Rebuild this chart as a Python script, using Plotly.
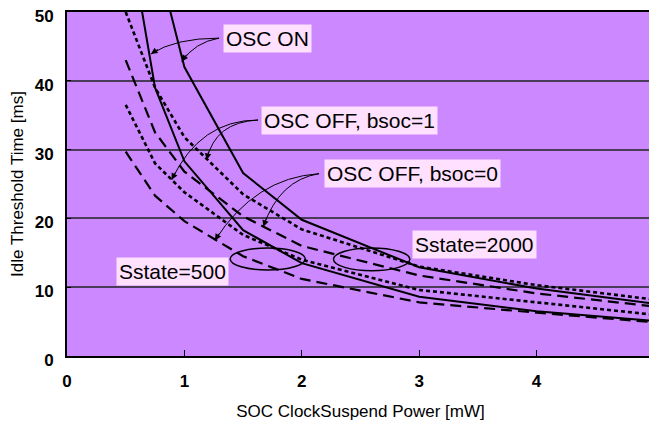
import plotly.graph_objects as go

# ---- data ----
power_mw = [0.5, 0.75, 1.0, 1.5, 2.0, 3.0, 4.0, 5.0]

osc_on_s2000 = [None, 58.8, 42.0, 26.6, 19.8, 12.9, 9.8, 7.6]
osc_on_s500 = [64.0, 39.0, 28.3, 18.3, 13.5, 8.6, 6.5, 5.1]
osc_off_b1_s2000 = [50.0, 39.0, 31.8, 23.5, 18.4, 13.0, 10.3, 8.2]
osc_off_b0_s2000 = [43.0, 32.5, 26.8, 20.3, 16.0, 11.7, 9.1, 7.2]
osc_off_b1_s500 = [36.5, 28.0, 23.8, 17.6, 14.0, 9.6, 7.8, 6.0]
osc_off_b0_s500 = [29.7, 23.3, 19.6, 14.5, 11.2, 7.8, 6.3, 4.9]

x_ticks = [0, 1, 2, 3, 4, 5]
y_ticks = [0, 10, 20, 30, 40, 50]

FONT = "Arial, Liberation Sans, sans-serif"
BG = "#CC88FF"
BOX = "#FFE0FF"

series = [
    (osc_on_s2000, "solid", 2.0),
    (osc_on_s500, "solid", 2.0),
    (osc_off_b1_s2000, "4px,3px", 2.6),
    (osc_off_b1_s500, "4px,3px", 2.6),
    (osc_off_b0_s2000, "11px,6px", 2.2),
    (osc_off_b0_s500, "11px,6px", 2.2),
]

fig = go.Figure()
for ys, dash, w in series:
    fig.add_trace(go.Scatter(x=power_mw, y=ys, mode="lines",
                             line=dict(color="black", width=w, dash=dash),
                             showlegend=False, hoverinfo="skip"))

# ---- labels ----
labels = [
    ("OSC ON", 1.71, 46.2),
    ("OSC OFF, bsoc=1", 2.41, 34.3),
    ("OSC OFF, bsoc=0", 2.94, 26.5),
    ("Sstate=500", 0.90, 12.3),
    ("Sstate=2000", 3.47, 16.2),
]
for t, lx, ly in labels:
    fig.add_annotation(x=lx, y=ly, text=t, showarrow=False,
                       font=dict(family=FONT, size=21, color="black"),
                       bgcolor=BOX, borderpad=2, xanchor="center", yanchor="middle")

# ---- curved pointer arrows: (start, control, tip, ax, ay) ----
pointers = [
    ((1.295, 46.2), (0.92, 46.2), (0.715, 43.9), 8.3, -5.6),
    ((1.295, 46.2), (1.09, 45.6), (0.977, 42.8), 5.6, -8.3),
    ((1.627, 34.3), (1.133, 34.3), (0.892, 25.6), 4.3, -9.0),
    ((1.627, 34.3), (1.26, 34.0), (1.19, 28.5), 2.1, -9.8),
    ((2.147, 26.5), (1.60, 25.9), (1.26, 16.8), 5.3, -8.5),
    ((2.147, 26.5), (1.81, 25.6), (1.672, 18.8), 3.4, -9.4),
]
for (sx, sy), (cx, cy), (tx, ty), ax, ay in pointers:
    fig.add_shape(type="path", xref="x", yref="y",
                  path=f"M {sx},{sy} Q {cx},{cy} {tx},{ty}",
                  line=dict(color="black", width=1))
    fig.add_annotation(x=tx, y=ty, ax=ax, ay=ay, text="", showarrow=True,
                       arrowhead=2, arrowsize=1.3, arrowwidth=1, arrowcolor="black")

# ---- ellipses ----
for x0, x1, y0, y1 in [(1.39, 2.03, 12.5, 15.7), (2.27, 2.92, 12.4, 15.7)]:
    fig.add_shape(type="circle", xref="x", yref="y", x0=x0, x1=x1, y0=y0, y1=y1,
                  line=dict(color="black", width=1.5))

fig.update_layout(
    width=649, height=417,
    margin=dict(l=59, r=3, t=4, b=69),
    paper_bgcolor="white", plot_bgcolor=BG,
    font=dict(family=FONT, color="black"),
    showlegend=False,
)
fig.update_xaxes(range=[0, 5], tickvals=x_ticks, ticks="inside", ticklen=6,
                 tickcolor="black", tickwidth=1.2, automargin=False,
                 tickfont=dict(family=FONT, size=17, color="black", weight="bold"),
                 ticklabelstandoff=9, ticklabeloverflow="allow",
                 showgrid=False, zeroline=False,
                 showline=True, linecolor="black", linewidth=1.8, mirror=True,
                 title=dict(text="SOC ClockSuspend Power [mW]",
                            font=dict(family=FONT, size=17, color="black"), standoff=15))
fig.update_yaxes(range=[0, 50], tickvals=y_ticks, ticks="inside", ticklen=4,
                 tickcolor="black", tickwidth=1.2, automargin=False,
                 tickfont=dict(family=FONT, size=17, color="black", weight="bold"),
                 ticklabelstandoff=8, ticklabeloverflow="allow", ticklabelshift=4,
                 showgrid=True, gridcolor="#4B3B5B", gridwidth=1.5, zeroline=False,
                 showline=True, linecolor="black", linewidth=1.8, mirror=True,
                 title=dict(text="Idle Threshold Time [ms]",
                            font=dict(family=FONT, size=17, color="black"), standoff=11))

fig.write_html("out.html")
